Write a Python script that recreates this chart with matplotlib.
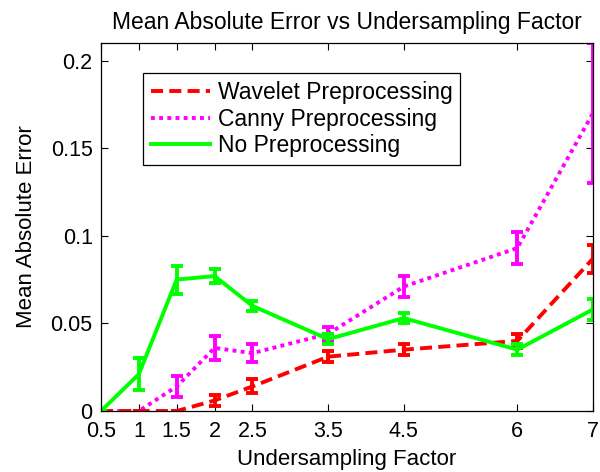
import matplotlib
matplotlib.use("Agg")
import matplotlib.pyplot as plt
from matplotlib.lines import Line2D

plt.rcParams['font.family'] = ['Liberation Sans', 'DejaVu Sans']

x = [0.5, 1, 1.5, 2, 2.5, 3.5, 4.5, 6, 7]
xtick_labels = ['0.5', '1', '1.5', '2', '2.5', '3.5', '4.5', '6', '7']

wavelet = [0.0, 0.0, 0.0, 0.006, 0.014, 0.031, 0.035, 0.040, 0.087]
wavelet_err = [0.0, 0.0, 0.0, 0.003, 0.004, 0.003, 0.003, 0.004, 0.008]

canny = [0.0, 0.0, 0.014, 0.036, 0.033, 0.044, 0.071, 0.093, 0.170]
canny_err = [0.0, 0.0, 0.006, 0.007, 0.005, 0.004, 0.006, 0.009, 0.040]

nopre = [0.0, 0.021, 0.075, 0.077, 0.060, 0.041, 0.053, 0.035, 0.058]
nopre_err = [0.0, 0.009, 0.008, 0.004, 0.003, 0.003, 0.003, 0.003, 0.006]

fig = plt.figure(figsize=(6.0, 4.72), dpi=100)
ax = fig.add_axes([101/600, 1-411/472, 492/600, 368/472])

lw = 2.8
fs_tick = 15.5
fs_lab = 16
fs_title = 16.5
fs_leg = 16.5
red_ls = (0, (3.1, 1.6))
mag_ls = (0, (1.0, 1.1))
ax.errorbar(x, wavelet, yerr=wavelet_err, color='#ff0000', linestyle=red_ls,
            linewidth=lw, elinewidth=lw, capsize=4.2, capthick=lw, zorder=3)
ax.errorbar(x, canny, yerr=canny_err, color='#ff00ff', linestyle=mag_ls,
            linewidth=lw, elinewidth=lw, capsize=4.2, capthick=lw, zorder=2)
ax.errorbar(x, nopre, yerr=nopre_err, color='#00ff00', linestyle='-',
            linewidth=lw, elinewidth=lw, capsize=4.2, capthick=lw, zorder=4)

ax.set_xlim(0.5, 7)
ax.set_ylim(0, 0.21)
ax.set_xticks(x)
ax.set_xticklabels(xtick_labels)
ax.set_yticks([0, 0.05, 0.1, 0.15, 0.2])
ax.set_yticklabels(['0', '0.05', '0.1', '0.15', '0.2'])
ax.tick_params(direction='in', top=True, right=True, labelsize=fs_tick,
               length=5, width=0.8)
ax.tick_params(axis='x', pad=7)
ax.tick_params(axis='y', pad=6)
for s in ax.spines.values():
    s.set_linewidth(0.9)
    s.set_zorder(5)

ax.set_title('Mean Absolute Error vs Undersampling Factor', fontsize=fs_title, pad=10)
ax.set_xlabel('Undersampling Factor', fontsize=fs_lab, labelpad=5)
ax.set_ylabel('Mean Absolute Error', fontsize=fs_lab, labelpad=10)

handles = [
    Line2D([], [], color='#ff0000', linestyle=red_ls, linewidth=lw),
    Line2D([], [], color='#ff00ff', linestyle=mag_ls, linewidth=lw),
    Line2D([], [], color='#00ff00', linestyle='-', linewidth=lw),
]
labels = ['Wavelet Preprocessing', 'Canny Preprocessing', 'No Preprocessing']
leg = ax.legend(handles, labels, loc='upper left', bbox_to_anchor=(0.085, 0.918),
                borderaxespad=0, fontsize=fs_leg,
                frameon=True, fancybox=False, edgecolor='black', framealpha=1,
                handlelength=2.56, borderpad=0.35, labelspacing=0.15, handletextpad=0.35)
leg.get_frame().set_linewidth(0.9)

fig.savefig('out.png', dpi=100)
